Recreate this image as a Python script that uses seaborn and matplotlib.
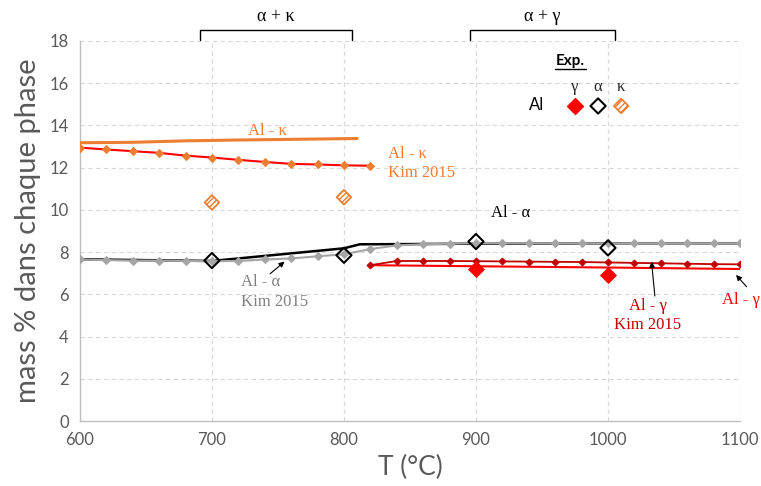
import numpy as np
import pandas as pd
import seaborn as sns
import matplotlib.pyplot as plt
from matplotlib.lines import Line2D

# --- data ---
# Kim 2015 calculations (every 20 degC)
T_kim_alpha = list(range(600, 1101, 20))
al_alpha_kim = [7.65, 7.62, 7.60, 7.60, 7.58, 7.57, 7.58, 7.65, 7.70, 7.80,
                7.90, 8.14, 8.32, 8.37, 8.40, 8.42, 8.42, 8.42, 8.42, 8.42,
                8.42, 8.42, 8.42, 8.42, 8.42, 8.42]
T_kim_kappa = list(range(600, 821, 20))
al_kappa_kim = [12.95, 12.86, 12.78, 12.70, 12.57, 12.48, 12.37, 12.27,
                12.18, 12.15, 12.11, 12.09]
T_kim_gamma = list(range(820, 1101, 20))
al_gamma_kim = [7.38, 7.58, 7.58, 7.58, 7.57, 7.56, 7.55, 7.54, 7.53,
                7.51, 7.49, 7.47, 7.45, 7.43, 7.42]

# present calculations
T_calc_kappa = [600, 640, 680, 720, 760, 810]
al_kappa_calc = [13.18, 13.20, 13.27, 13.31, 13.34, 13.38]
T_calc_alpha = [600, 650, 700, 750, 800, 812, 850, 900, 1000, 1100]
al_alpha_calc = [7.66, 7.62, 7.58, 7.88, 8.18, 8.37, 8.38, 8.40, 8.42, 8.42]
T_calc_gamma = [820, 900, 1000, 1100]
al_gamma_calc = [7.38, 7.33, 7.27, 7.20]

# experiments
T_exp_gamma = [900, 1000]
al_exp_gamma = [7.2, 6.9]
T_exp_alpha = [700, 800, 900, 1000]
al_exp_alpha = [7.6, 7.85, 8.5, 8.2]
T_exp_kappa = [700, 800]
al_exp_kappa = [10.35, 10.6]

ORANGE = '#ED7D31'
RED = '#FF0000'
DARKRED = '#C00000'
GREY = '#A5A5A5'
TXT = '#595959'

sns.set_theme(style="white")
plt.rcParams['font.family'] = ['Lato', 'DejaVu Sans']
plt.rcParams['hatch.color'] = ORANGE
plt.rcParams['hatch.linewidth'] = 1.0

fig = plt.figure(figsize=(7.61, 4.86), dpi=100)
ax = fig.add_axes([0.105, 0.1337, 0.8674, 0.782])

# Kim 2015 lines with markers
sns.lineplot(x=T_kim_alpha, y=al_alpha_kim, ax=ax, color=GREY, lw=1.5,
             marker='D', markersize=4, markeredgecolor=GREY, zorder=3)
sns.lineplot(x=T_kim_kappa, y=al_kappa_kim, ax=ax, color=RED, lw=1.5,
             marker='D', markersize=4, markerfacecolor=ORANGE,
             markeredgecolor=ORANGE, zorder=3)
sns.lineplot(x=T_kim_gamma, y=al_gamma_kim, ax=ax, color=DARKRED, lw=1.3,
             marker='D', markersize=3.5, markeredgecolor=DARKRED, zorder=3)

# present calculation lines
sns.lineplot(x=T_calc_kappa, y=al_kappa_calc, ax=ax, color=ORANGE, lw=2.2, zorder=4)
sns.lineplot(x=T_calc_alpha, y=al_alpha_calc, ax=ax, color='black', lw=1.8, zorder=2)
sns.lineplot(x=T_calc_gamma, y=al_gamma_calc, ax=ax, color=RED, lw=1.5, zorder=2)

# experimental points
sns.scatterplot(x=T_exp_gamma, y=al_exp_gamma, ax=ax, marker='D', s=65,
                color=RED, edgecolor=RED, zorder=5)
sns.scatterplot(x=T_exp_alpha, y=al_exp_alpha, ax=ax, marker='D', s=60,
                facecolor='none', edgecolor='black', linewidth=1.5, zorder=5)
ax.scatter(T_exp_kappa, al_exp_kappa, marker='D', s=55, facecolor='white',
           edgecolor=ORANGE, linewidth=1.3, hatch='//////', zorder=5)

ax.set_xlim(600, 1100)
ax.set_ylim(0, 18)
ax.set_xticks(range(600, 1101, 100))
ax.set_yticks(range(0, 19, 2))
ax.grid(True, color='#D9D9D9', ls=(0, (4, 3)), lw=0.8)
for s in ['top', 'right']:
    ax.spines[s].set_visible(False)
for s in ['left', 'bottom']:
    ax.spines[s].set_color('#BFBFBF')
    ax.spines[s].set_linewidth(1.0)
ax.tick_params(length=0, labelsize=12, labelcolor=TXT, pad=8)
ax.set_xlabel('T (°C)', fontsize=19, color=TXT, labelpad=5)
ax.set_ylabel('mass % dans chaque phase', fontsize=21, color=TXT, labelpad=6)

# annotations (serif)
serif = dict(family=['Liberation Serif', 'DejaVu Serif'], fontsize=12)
ax.text(742, 13.75, 'Al - κ', color=ORANGE, ha='center', va='center', **serif)
ax.text(833, 12.2, 'Al - κ\nKim 2015', color=ORANGE, ha='left', va='center',
        linespacing=1.3, **serif)
ax.text(926, 9.86, 'Al - α', color='black', ha='center', va='center', **serif)
ax.text(722, 6.1, 'Al - α\nKim 2015', color='#808080', ha='left', va='center',
        linespacing=1.3, **serif)
ax.annotate('', xy=(755, 7.55), xytext=(744, 6.97),
            arrowprops=dict(arrowstyle='-|>', color='black', lw=0.8,
                            mutation_scale=8, shrinkA=0, shrinkB=0))
ax.text(1030, 5.0, 'Al - γ\nKim 2015', color=DARKRED, ha='center', va='center',
        linespacing=1.3, **serif)
ax.annotate('', xy=(1033, 7.55), xytext=(1035.5, 5.92),
            arrowprops=dict(arrowstyle='-|>', color='black', lw=0.8,
                            mutation_scale=8, shrinkA=0, shrinkB=0))
ax.text(1086, 5.73, 'Al - γ', color=RED, ha='left', va='center', clip_on=False, **serif)
ax.annotate('', xy=(1097, 6.92), xytext=(1105, 6.36),
            arrowprops=dict(arrowstyle='-|>', color='black', lw=0.8,
                            mutation_scale=8, shrinkA=0, shrinkB=0),
            annotation_clip=False)

# phase-field brackets above the axes
for (x0, x1, lab) in [(691, 806, 'α + κ'), (895.5, 1005.3, 'α + γ')]:
    ax.plot([x0, x0, x1, x1], [18.06, 18.53, 18.53, 18.06], color='black',
            lw=1.0, clip_on=False)
    ax.text((x0 + x1) / 2, 19.15, lab, ha='center', va='center', color='black',
            clip_on=False, family=['Liberation Serif', 'DejaVu Serif'],
            fontsize=13)

# experimental key
tr = ax.transAxes
ax.text(0.743, 0.947, 'Exp.', transform=tr, ha='center', va='center',
        fontsize=11, fontweight='bold', color='black')
ax.add_line(Line2D([0.72, 0.766], [0.927, 0.927], transform=tr,
                   color='black', lw=1.0))
for xk, g in [(0.75, 'γ'), (0.785, 'α'), (0.82, 'κ')]:
    ax.text(xk, 0.88, g, transform=tr, ha='center', va='center', **serif)
ax.text(0.692, 0.832, 'Al', transform=tr, ha='center', va='center',
        fontsize=12, color='black')
ax.scatter([0.75], [0.829], transform=tr, marker='D', s=65, color=RED, zorder=6)
ax.scatter([0.785], [0.829], transform=tr, marker='D', s=60, facecolor='none',
           edgecolor='black', linewidth=1.5, zorder=6)
ax.scatter([0.82], [0.829], transform=tr, marker='D', s=55, facecolor='white',
           edgecolor=ORANGE, linewidth=1.3, hatch='//////', zorder=6)

fig.savefig('out.png', dpi=100)
